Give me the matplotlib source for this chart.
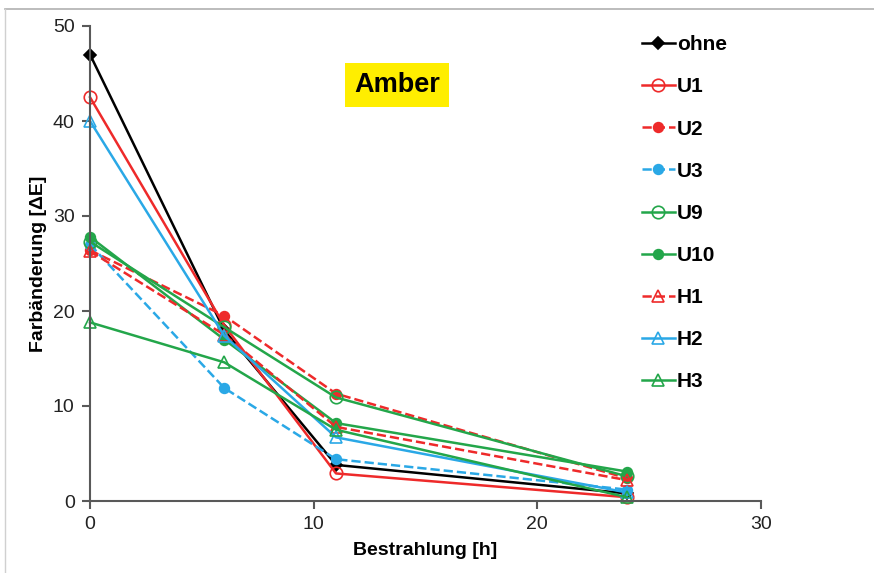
import matplotlib
matplotlib.use("Agg")
import matplotlib.pyplot as plt
from matplotlib.lines import Line2D

plt.rcParams['font.family'] = ['Liberation Sans', 'DejaVu Sans']

hours = [0, 6, 11, 24]
series_names = ["ohne", "U1", "U2", "U3", "U9", "U10", "H1", "H2", "H3"]
ohne = [47.0, 18.0, 3.8, 0.8]
U1 = [42.5, 18.5, 2.9, 0.4]
U2 = [26.4, 19.5, 11.3, 2.4]
U3 = [27.0, 11.9, 4.4, 1.2]
U9 = [27.3, 18.3, 10.9, 2.6]
U10 = [27.8, 17.0, 8.2, 3.1]
H1 = [26.3, 17.5, 7.8, 2.2]
H2 = [40.0, 17.4, 6.7, 0.9]
H3 = [18.8, 14.6, 7.5, 0.4]
values = [ohne, U1, U2, U3, U9, U10, H1, H2, H3]

RED = "#ee2a2a"
BLUE = "#2aa8e6"
GREEN = "#23a64a"
styles = {
    "ohne": dict(color="black", ls="-", marker="D", mfc="black", ms=6),
    "U1": dict(color=RED, ls="-", marker="o", mfc="none", ms=9),
    "U2": dict(color=RED, ls="--", marker="o", mfc=RED, ms=7),
    "U3": dict(color=BLUE, ls="--", marker="o", mfc=BLUE, ms=7),
    "U9": dict(color=GREEN, ls="-", marker="o", mfc="none", ms=9),
    "U10": dict(color=GREEN, ls="-", marker="o", mfc=GREEN, ms=7),
    "H1": dict(color=RED, ls="--", marker="^", mfc="none", ms=9),
    "H2": dict(color=BLUE, ls="-", marker="^", mfc="none", ms=9),
    "H3": dict(color=GREEN, ls="-", marker="^", mfc="none", ms=9),
}

fig = plt.figure(figsize=(8.74, 5.73), dpi=100)
ax = fig.add_axes([90/874, 1-501/573, (761-90)/874, (501-26)/573])

for name, vals in zip(series_names, values):
    st = styles[name]
    ax.plot(hours, vals, color=st["color"], ls=st["ls"], lw=1.8,
            marker=st["marker"], mfc=st["mfc"], mec=st["color"],
            ms=st["ms"], mew=1.2, label=name, clip_on=False)

ax.set_xlim(0, 30)
ax.set_ylim(0, 50)
ax.set_xticks([0, 10, 20, 30])
ax.set_yticks([0, 10, 20, 30, 40, 50])
for s in ["top", "right"]:
    ax.spines[s].set_visible(False)
for s in ["left", "bottom"]:
    ax.spines[s].set_color("#595959")
    ax.spines[s].set_linewidth(1.5)
ax.tick_params(direction="out", length=6, width=1.5, color="#595959",
               labelsize=14, labelcolor="#222222", pad=5)
ax.set_xlabel("Bestrahlung [h]", fontsize=14, fontweight="bold", labelpad=6)
ax.set_ylabel("Farbänderung [ΔE]", fontsize=14, fontweight="bold", labelpad=4)

ax.text(397/874, 1-85/573, "Amber", transform=fig.transFigure,
        ha="center", va="center", fontsize=19.5, fontweight="bold",
        bbox=dict(boxstyle="square,pad=0.33", fc="#ffee00", ec="none"))

leg = ax.legend(loc="upper left", bbox_to_anchor=(634/874, 1-27/573),
                bbox_transform=fig.transFigure, frameon=False,
                prop=dict(size=15, weight="bold"), handlelength=1.55,
                handletextpad=0.1, labelspacing=1.11, borderaxespad=0)

fig.add_artist(Line2D([5/874, 1], [1-9/573, 1-9/573], transform=fig.transFigure,
                      color="#b0b0b0", lw=1.2))
fig.add_artist(Line2D([5/874, 5/874], [0, 1-9/573], transform=fig.transFigure,
                      color="#d0d0d0", lw=1.0))

fig.savefig("out.png", dpi=100)
